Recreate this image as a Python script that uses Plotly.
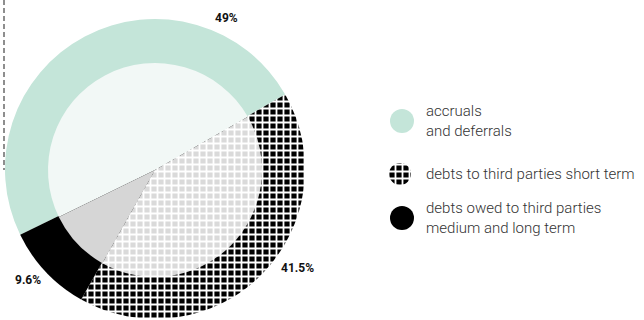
import plotly.graph_objects as go

# data
labels = ["accruals<br>and deferrals",
          "debts to third parties short term",
          "debts owed to third parties<br>medium and long term"]
values = [49, 41.5, 9.6]
value_text = ["49%", "41.5%", "9.6%"]

outer_colors = ["#c4e5d9", "#000000", "#000000"]
inner_colors = ["#f2f8f6", "#dadada", "#d6d6d6"]
patterns = ["", "+", ""]

W, H = 644, 320


def dom(cx, cy, r):
    # pixel circle -> paper domain
    return dict(x=[(cx - r) / W, (cx + r) / W],
                y=[(H - cy - r) / H, (H - cy + r) / H])


def pie_marker(colors, shapes):
    return dict(colors=colors, line=dict(width=0),
                pattern=dict(shape=shapes, fgcolor="#ffffff", bgcolor=colors,
                             size=7, solidity=0.45, fillmode="replace"))


fig = go.Figure()

# outer ring (full pie)
fig.add_trace(go.Pie(
    values=values, labels=labels, sort=False, direction="clockwise",
    rotation=244, textinfo="none", hoverinfo="skip", showlegend=False,
    domain=dom(155, 169, 150), marker=pie_marker(outer_colors, patterns),
))

# inner lighter pie
fig.add_trace(go.Pie(
    values=values, labels=labels, sort=False, direction="clockwise",
    rotation=244, textinfo="none", hoverinfo="skip", showlegend=False,
    domain=dom(155, 170, 107), marker=pie_marker(inner_colors, patterns),
))

# legend icons as tiny pies
legend_pos = [(402, 121, 12), (400, 174, 11), (402, 218, 12)]
for i, (cx, cy, r) in enumerate(legend_pos):
    fig.add_trace(go.Pie(
        values=[1], labels=[labels[i]], sort=False, textinfo="none",
        hoverinfo="skip", showlegend=False, domain=dom(cx, cy, r),
        marker=pie_marker([outer_colors[i]], [patterns[i]]),
    ))
    fig.add_annotation(
        x=424 / W, y=1 - cy / H, xref="paper", yref="paper",
        xanchor="left", yanchor="middle", align="left", showarrow=False,
        text=labels[i],
        font=dict(family="Roboto", size=15, weight=300, color="#333333"),
    )

# value labels
label_pos = [(226, 18), (297, 268), (28, 280)]
for t, (x, y) in zip(value_text, label_pos):
    fig.add_annotation(
        x=x / W, y=1 - y / H, xref="paper", yref="paper",
        xanchor="center", yanchor="middle", showarrow=False, text=f"<b>{t}</b>",
        font=dict(family="Roboto", size=12, color="#111111"),
    )

# dashed guide on the left
fig.add_shape(type="line", xref="paper", yref="paper",
              x0=4 / W, x1=4 / W, y0=1, y1=1 - 170 / H,
              line=dict(color="#444444", width=1.2, dash="5px,3px"))

fig.update_layout(
    width=W, height=H,
    margin=dict(l=0, r=0, t=0, b=0),
    paper_bgcolor="#ffffff", plot_bgcolor="#ffffff",
)

fig.write_html("out.html", config={"displayModeBar": False},
               post_script="document.body.style.margin='0';")
